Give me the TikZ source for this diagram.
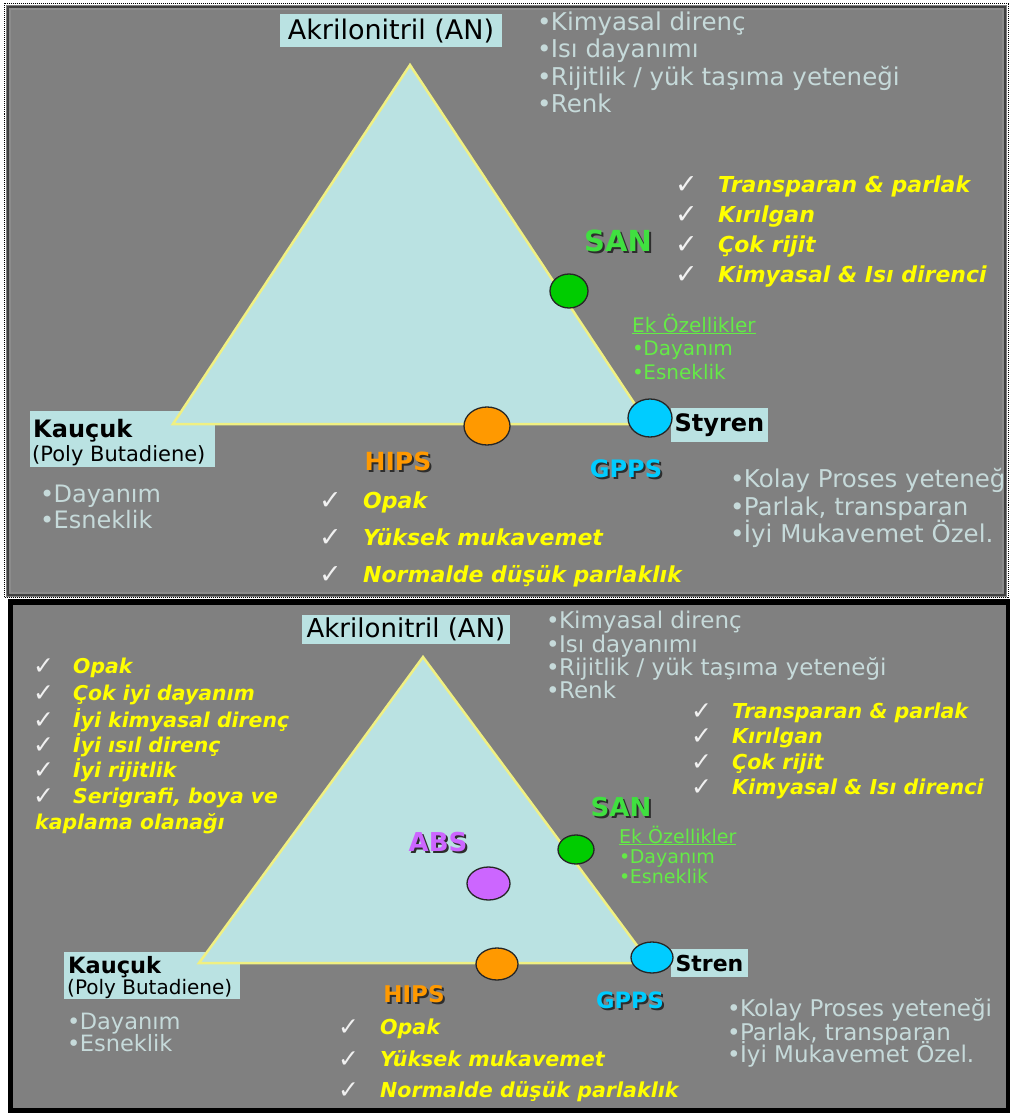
\documentclass[tikz,border=0pt]{standalone}
\usepackage{fontspec}
\setmainfont{DejaVu Sans}
\usetikzlibrary{shapes.geometric}
\definecolor{panelgray}{RGB}{128,128,128}
\definecolor{trifill}{RGB}{186,226,226}
\definecolor{triedge}{RGB}{240,240,130}
\definecolor{lighttxt}{RGB}{198,218,218}
\definecolor{yellowc}{RGB}{255,255,0}
\definecolor{checkc}{RGB}{240,240,240}
\definecolor{sangreen}{RGB}{64,224,64}
\definecolor{ekgreen}{RGB}{100,235,70}
\definecolor{dotgreen}{RGB}{0,204,0}
\definecolor{orangec}{RGB}{255,153,0}
\definecolor{cyanc}{RGB}{0,204,255}
\definecolor{purplec}{RGB}{204,102,255}
\definecolor{shadowc}{RGB}{45,45,45}
\newcommand\fz[1]{\fontsize{#1}{#1}\selectfont}
\newcommand\bul{\makebox[0.56em][l]{•}}
\begin{document}
\begin{tikzpicture}[x=1pt,y=-1pt,
  lt/.style={anchor=base west, inner sep=0pt, text=lighttxt, font={\fz{#1}}},
  ek/.style={anchor=base west, inner sep=0pt, text=ekgreen, font={\fz{#1}}},
  yl/.style={anchor=base west, inner sep=0pt, text=yellowc, font={\fz{#1}\bfseries\itshape}},
  chk/.style={anchor=base west, inner sep=0pt, text=checkc, font={\fz{#1}}},
  lbl/.style={inner sep=0pt, font={\fz{#1}\bfseries}},
  box/.style={fill=trifill, inner sep=0pt, text=black},
  tri/.style={fill=trifill, draw=triedge, line width=2.5pt, line join=miter},
  dot/.style={ellipse, draw=black!85, line width=1.3pt, inner sep=0pt}
]
\useasboundingbox (0,0) rectangle (1010,1113);
\fill[white] (0,0) rectangle (1010,1113);

% ---------------- top panel ----------------
\fill[panelgray] (6,5) rectangle (1007,597);
\draw[black!75, line width=2pt] (8,7) rectangle (1005,595);
\draw[black!45, line width=2pt] (10,9) rectangle (1003,593);
\draw[black, line width=1pt, dash pattern=on 1pt off 1pt] (4.5,3.5) rectangle (1008.5,597.5);
\begin{scope}
\clip (11,10) rectangle (1003,592);
\node[box, minimum width=222pt, minimum height=33pt, font={\fz{27}}] (an1) at (391,31) {Akrilonitril (AN)};
\node[lt=24.5] (a1) at (537,31) {\bul Kimyasal direnç};
\node[lt=24.5] (a2) at (537,58) {\bul Isı dayanımı};
\node[lt=24.5] (a3) at (537,86) {\bul Rijitlik / yük taşıma yeteneği};
\node[lt=24.5] (a4) at (537,113) {\bul Renk};

\node[box, anchor=north west, minimum width=185pt, minimum height=56pt] (kau1) at (30,411) {};
\node[box, minimum width=97pt, minimum height=34pt, font={\fz{24}\bfseries}] (sty1) at (719.5,425) {Styren};

\coordinate (t1a) at (410,65);
\coordinate (t1l) at (173,424);
\coordinate (t1r) at (648,424);
\draw[tri] (t1a) -- (t1l) -- (t1r) -- cycle;

\node[anchor=base west, inner sep=0pt, font={\fz{24}\bfseries}] (kau1a) at (33,437) {Kauçuk};
\node[anchor=base west, inner sep=0pt, font={\fz{21}}] (kau1b) at (32,461) {(Poly Butadiene)};

\node[dot, fill=dotgreen, minimum width=38pt, minimum height=34pt] (san1c) at (569,291) {};
\node[dot, fill=orangec, minimum width=46pt, minimum height=38pt] (hips1c) at (487,426) {};
\node[dot, fill=cyanc, minimum width=44pt, minimum height=38pt] (gpps1c) at (650,418) {};

\node[lbl=29, text=shadowc] (san1s) at (620,243) {SAN};
\node[lbl=29, text=sangreen] (san1) at (618,241) {SAN};
\node[lbl=25, text=shadowc] (hips1s) at (400,463) {HIPS};
\node[lbl=25, text=orangec] (hips1) at (398,461) {HIPS};
\node[lbl=24, text=shadowc] (gpps1s) at (628,471) {GPPS};
\node[lbl=24, text=cyanc] (gpps1) at (626,469) {GPPS};

\node[chk=27] (c11) at (675,193) {✓};
\node[chk=27] (c12) at (675,223) {✓};
\node[chk=27] (c13) at (675,253) {✓};
\node[chk=27] (c14) at (675,283) {✓};
\node[yl=22] (y11) at (718,192) {Transparan \& parlak};
\node[yl=22] (y12) at (718,222) {Kırılgan};
\node[yl=22] (y13) at (718,252) {Çok rijit};
\node[yl=22] (y14) at (718,282) {Kimyasal \& Isı direnci};

\node[ek=20] (e11) at (632,332) {\underline{Ek Özellikler}};
\node[ek=20] (e12) at (632,355) {\bul Dayanım};
\node[ek=20] (e13) at (632,379) {\bul Esneklik};

\node[lt=24] (k11) at (40,502) {\bul Dayanım};
\node[lt=24] (k12) at (40,528) {\bul Esneklik};

\node[chk=27] (c21) at (319,509) {✓};
\node[chk=27] (c22) at (319,546) {✓};
\node[chk=27] (c23) at (319,583) {✓};
\node[yl=22] (y21) at (363,508) {Opak};
\node[yl=22] (y22) at (363,545) {Yüksek mukavemet};
\node[yl=22] (y23) at (363,582) {Normalde düşük parlaklık};

\node[lt=24.5] (g11) at (730,487) {\bul Kolay Proses yeteneği};
\node[lt=24.5] (g12) at (730,515) {\bul Parlak, transparan};
\node[lt=24.5] (g13) at (730,542) {\bul İyi Mukavemet Özel.};
\end{scope}

% ---------------- bottom panel ----------------
\fill[black] (8,599) rectangle (1010,1113);
\fill[panelgray] (13,605) rectangle (1006,1108);

\node[box, minimum width=208pt, minimum height=29pt, font={\fz{26}}] (an2) at (406,629.5) {Akrilonitril (AN)};
\node[lt=23] (b1) at (546,628) {\bul Kimyasal direnç};
\node[lt=23] (b2) at (546,652) {\bul Isı dayanımı};
\node[lt=23] (b3) at (546,675) {\bul Rijitlik / yük taşıma yeteneği};
\node[lt=23] (b4) at (546,698) {\bul Renk};

\node[box, anchor=north west, minimum width=176pt, minimum height=47pt] (kau2) at (64,952) {};
\node[box, minimum width=77pt, minimum height=28pt, font={\fz{22}\bfseries}] (sty2) at (709.5,963) {Stren};

\coordinate (t2a) at (423,657);
\coordinate (t2l) at (199,963);
\coordinate (t2r) at (650,963);
\draw[tri] (t2a) -- (t2l) -- (t2r) -- cycle;

\node[anchor=base west, inner sep=0pt, font={\fz{22.5}\bfseries}] (kau2a) at (68,973) {Kauçuk};
\node[anchor=base west, inner sep=0pt, font={\fz{20}}] (kau2b) at (67,994) {(Poly Butadiene)};

\node[dot, fill=dotgreen, minimum width=36pt, minimum height=29pt] (san2c) at (576,849.5) {};
\node[dot, fill=purplec, minimum width=43pt, minimum height=33pt] (abs2c) at (488.5,883.5) {};
\node[dot, fill=orangec, minimum width=42pt, minimum height=32pt] (hips2c) at (497,964) {};
\node[dot, fill=cyanc, minimum width=42pt, minimum height=31pt] (gpps2c) at (652,957.5) {};

\node[lbl=26, text=shadowc] (san2s) at (623,809) {SAN};
\node[lbl=26, text=sangreen] (san2) at (621,807) {SAN};
\node[lbl=26, text=shadowc] (abs2s) at (440,844) {ABS};
\node[lbl=26, text=purplec] (abs2) at (438,842) {ABS};
\node[lbl=23, text=shadowc] (hips2s) at (416,996.5) {HIPS};
\node[lbl=23, text=orangec] (hips2) at (414,994.5) {HIPS};
\node[lbl=22.5, text=shadowc] (gpps2s) at (632,1002) {GPPS};
\node[lbl=22.5, text=cyanc] (gpps2) at (630,1000) {GPPS};

\node[chk=25] (d11) at (691,719) {✓};
\node[chk=25] (d12) at (691,744) {✓};
\node[chk=25] (d13) at (691,770) {✓};
\node[chk=25] (d14) at (691,795) {✓};
\node[yl=20.6] (z11) at (732,718) {Transparan \& parlak};
\node[yl=20.6] (z12) at (732,743) {Kırılgan};
\node[yl=20.6] (z13) at (732,769) {Çok rijit};
\node[yl=20.6] (z14) at (732,794) {Kimyasal \& Isı direnci};

\node[ek=19] (e21) at (619,843) {\underline{Ek Özellikler}};
\node[ek=19] (e22) at (619,863) {\bul Dayanım};
\node[ek=19] (e23) at (619,883) {\bul Esneklik};

\node[chk=25] (d31) at (33,674) {✓};
\node[chk=25] (d32) at (33,701) {✓};
\node[chk=25] (d33) at (33,728) {✓};
\node[chk=25] (d34) at (33,753) {✓};
\node[chk=25] (d35) at (33,778) {✓};
\node[chk=25] (d36) at (33,804) {✓};
\node[yl=20.4] (z31) at (73,673) {Opak};
\node[yl=20.4] (z32) at (73,700) {Çok iyi dayanım};
\node[yl=20.4] (z33) at (73,727) {İyi kimyasal direnç};
\node[yl=20.4] (z34) at (73,752) {İyi ısıl direnç};
\node[yl=20.4] (z35) at (73,777) {İyi rijitlik};
\node[yl=20.4] (z36) at (73,803) {Serigrafi, boya ve};
\node[yl=20.4] (z37) at (35,829) {kaplama olanağı};

\node[lt=22.5] (k21) at (67,1029) {\bul Dayanım};
\node[lt=22.5] (k22) at (67,1051) {\bul Esneklik};

\node[chk=25] (d21) at (338,1035) {✓};
\node[chk=25] (d22) at (338,1067) {✓};
\node[chk=25] (d23) at (338,1098) {✓};
\node[yl=20.6] (z21) at (380,1034) {Opak};
\node[yl=20.6] (z22) at (380,1066) {Yüksek mukavemet};
\node[yl=20.6] (z23) at (380,1097) {Normalde düşük parlaklık};

\node[lt=23] (g21) at (727,1016) {\bul Kolay Proses yeteneği};
\node[lt=23] (g22) at (727,1040) {\bul Parlak, transparan};
\node[lt=23] (g23) at (727,1062) {\bul İyi Mukavemet Özel.};
\end{tikzpicture}
\end{document}
